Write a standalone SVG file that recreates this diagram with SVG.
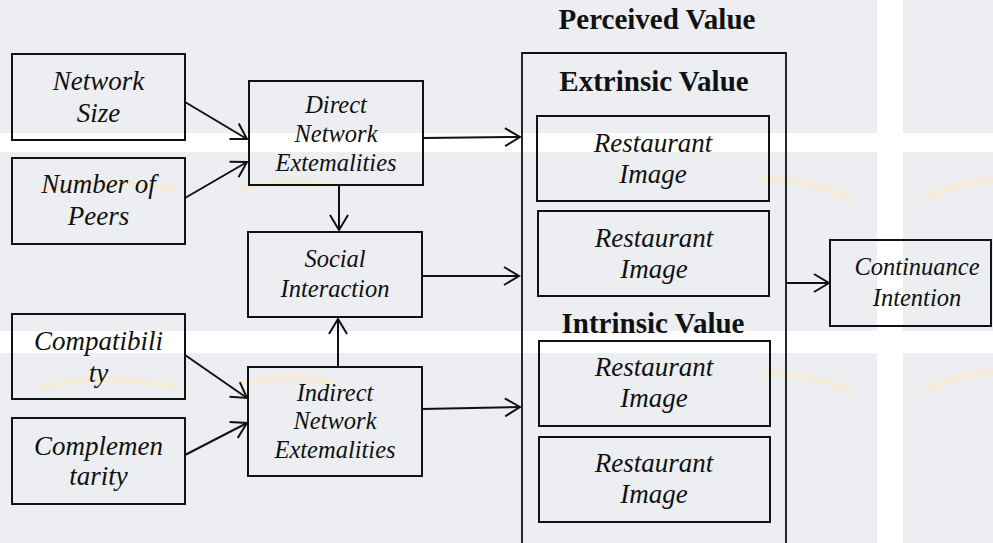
<svg xmlns="http://www.w3.org/2000/svg" width="993" height="543" viewBox="0 0 993 543">
  <defs>
    <marker id="arr" markerUnits="userSpaceOnUse" viewBox="-17 -11 19 22" markerWidth="19" markerHeight="22" refX="0" refY="0" orient="auto" overflow="visible">
      <path d="M-15,-9 L0,0 L-15,9" fill="none" stroke="#111" stroke-width="2"/>
    </marker>
  </defs>
  <style>
    .bx { fill: none; stroke: #111; stroke-width: 2; }
    .it { font-family: "Liberation Serif", "Times New Roman", serif; font-style: italic; fill: #111; text-anchor: middle; }
    .l { font-size: 27px; }
    .m { font-size: 24.5px; }
    .bd { font-family: "Liberation Serif", "Times New Roman", serif; font-weight: bold; font-size: 29px; fill: #111; text-anchor: middle; }
    .cn { fill: none; stroke: #111; stroke-width: 2; marker-end: url(#arr); }
    .wm { fill: #eceef1; }
    .gap { fill: #ffffff; }
    .arc { fill: none; stroke: #f4ecd8; stroke-width: 6; stroke-linecap: round; }
  </style>

  <g id="watermark">
    <rect class="wm" x="0" y="0" width="993" height="543"/>
    <rect class="gap" x="0" y="133" width="993" height="19"/>
    <rect class="gap" x="0" y="331" width="993" height="22"/>
    <rect class="gap" x="877" y="0" width="26" height="543"/>
    <path class="arc" d="M765,178 Q815,182 850,198"/>
    <path class="arc" d="M925,198 Q955,184 993,180"/>
    <path class="arc" d="M40,190 Q100,176 175,190"/>
    <path class="arc" d="M240,188 Q290,176 330,186"/>
    <path class="arc" d="M765,372 Q815,376 850,390"/>
    <path class="arc" d="M925,390 Q955,376 993,372"/>
    <path class="arc" d="M40,388 Q100,372 175,386"/>
    <path class="arc" d="M240,384 Q290,372 330,382"/>
  </g>

  <g id="connectors">
    <path class="cn" d="M185,102 L247,139"/>
    <path class="cn" d="M185,198 L247,162"/>
    <path class="cn" d="M185,355 L247,398"/>
    <path class="cn" d="M185,455 L247,423"/>
    <path class="cn" d="M423,138 L520,137"/>
    <path class="cn" d="M422,276 L519,276"/>
    <path class="cn" d="M422,409 L520,407"/>
    <path class="cn" d="M339,185 L339,230"/>
    <path class="cn" d="M338,367 L338,319"/>
    <path class="cn" d="M786,283 L829,283"/>
  </g>

  <g id="network-size">
    <rect class="bx" x="12" y="54" width="173" height="86"/>
    <text class="it l" x="98.5" y="90">Network</text>
    <text class="it l" x="98.5" y="122">Size</text>
  </g>
  <g id="number-of-peers">
    <rect class="bx" x="12" y="158" width="173" height="86"/>
    <text class="it l" x="98.5" y="193">Number of</text>
    <text class="it l" x="98.5" y="225">Peers</text>
  </g>
  <g id="compatibility">
    <rect class="bx" x="12" y="314" width="173" height="85"/>
    <text class="it l" x="98.5" y="350">Compatibili</text>
    <text class="it l" x="98.5" y="382">ty</text>
  </g>
  <g id="complementarity">
    <rect class="bx" x="12" y="418" width="173" height="86"/>
    <text class="it l" x="98.5" y="455">Complemen</text>
    <text class="it l" x="98.5" y="485">tarity</text>
  </g>
  <g id="direct-network">
    <rect class="bx" x="249" y="81" width="174" height="104"/>
    <text class="it m" x="336" y="113">Direct</text>
    <text class="it m" x="336" y="142">Network</text>
    <text class="it m" x="336" y="171">Extemalities</text>
  </g>
  <g id="social-interaction">
    <rect class="bx" x="248" y="232" width="174" height="85"/>
    <text class="it m" x="335" y="267">Social</text>
    <text class="it m" x="335" y="297">Interaction</text>
  </g>
  <g id="indirect-network">
    <rect class="bx" x="248" y="367" width="174" height="109"/>
    <text class="it m" x="335" y="401">Indirect</text>
    <text class="it m" x="335" y="429">Network</text>
    <text class="it m" x="335" y="458">Extemalities</text>
  </g>
  <g id="perceived-value">
    <path d="M522,545 V53 H786 V545" fill="none" stroke="#111" stroke-width="1.8"/>
    <text class="bd" x="657" y="29">Perceived Value</text>
    <text class="bd" x="654" y="91">Extrinsic Value</text>
    <text class="bd" x="653" y="333">Intrinsic Value</text>
  </g>
  <g id="restaurant-image-1">
    <rect class="bx" x="537" y="116" width="232" height="85"/>
    <text class="it l" x="653" y="152">Restaurant</text>
    <text class="it l" x="653" y="183">Image</text>
  </g>
  <g id="restaurant-image-2">
    <rect class="bx" x="538" y="211" width="231" height="85"/>
    <text class="it l" x="654" y="247">Restaurant</text>
    <text class="it l" x="654" y="278">Image</text>
  </g>
  <g id="restaurant-image-3">
    <rect class="bx" x="539" y="341" width="231" height="85"/>
    <text class="it l" x="654" y="376">Restaurant</text>
    <text class="it l" x="654" y="407">Image</text>
  </g>
  <g id="restaurant-image-4">
    <rect class="bx" x="539" y="437" width="231" height="85"/>
    <text class="it l" x="654" y="472">Restaurant</text>
    <text class="it l" x="654" y="503">Image</text>
  </g>
  <g id="continuance-intention">
    <rect class="bx" x="830" y="240" width="161" height="86"/>
    <text class="it m" x="917" y="275">Continuance</text>
    <text class="it m" x="917" y="306">Intention</text>
  </g>
</svg>
